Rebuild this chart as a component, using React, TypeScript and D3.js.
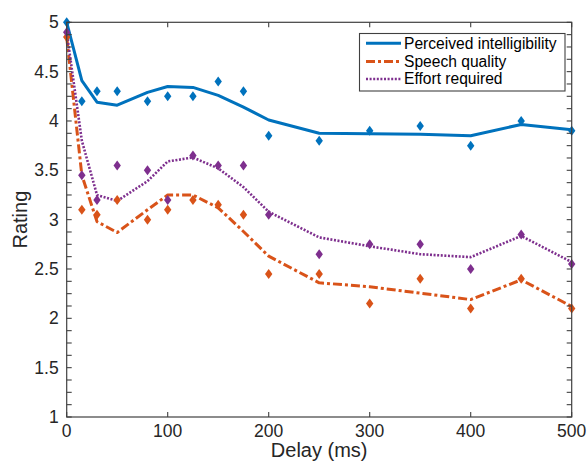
import React from "react";
import * as d3 from "d3";

// Delay conditions (ms)
const delays = [0, 15, 30, 50, 80, 100, 125, 150, 175, 200, 250, 300, 350, 400, 450, 500];

// Mean ratings (markers)
const intelligibilityPts = [5.0, 4.2, 4.3, 4.3, 4.2, 4.25, 4.25, 4.4, 4.3, 3.85, 3.8, 3.9, 3.95, 3.75, 4.0, 3.9];
const qualityPts = [4.85, 3.1, 3.05, 3.2, 3.0, 3.1, 3.2, 3.15, 3.05, 2.45, 2.45, 2.15, 2.4, 2.1, 2.4, 2.1];
const effortPts = [4.9, 3.45, 3.2, 3.55, 3.5, 3.2, 3.65, 3.55, 3.55, 3.05, 2.65, 2.75, 2.75, 2.5, 2.85, 2.55];

// Smoothed trend lines
const intelligibilityFit = [5.0, 4.41, 4.19, 4.16, 4.29, 4.35, 4.34, 4.26, 4.14, 4.01, 3.875, 3.87, 3.865, 3.85, 3.965, 3.91];
const qualityFit = [4.85, 3.45, 2.98, 2.87, 3.1, 3.25, 3.25, 3.12, 2.88, 2.63, 2.36, 2.32, 2.255, 2.19, 2.39, 2.12];
const effortFit = [4.9, 3.8, 3.25, 3.19, 3.39, 3.59, 3.63, 3.52, 3.33, 3.08, 2.82, 2.73, 2.65, 2.62, 2.835, 2.57];

const seriesNames = ["Perceived intelligibility", "Speech quality", "Effort required"];

const xTicks = [0, 100, 200, 300, 400, 500];
const yTicks = [1, 1.5, 2, 2.5, 3, 3.5, 4, 4.5, 5];

const W = 587;
const H = 461;
const left = 66.7;
const right = 571.7;
const top = 22.3;
const bottom = 417;

const FONT = "'Liberation Sans', Arial, Helvetica, sans-serif";
const AXIS = "#404040";
const TEXT = "#262626";

const styles = [
  { color: "#0072BD", dash: "none", width: 3 },
  { color: "#D95319", dash: "9,3,3,3", width: 3 },
  { color: "#7E2F8E", dash: "2,1.6", width: 2.6 },
];

export default function App() {
  const x = d3.scaleLinear().domain([0, 500]).range([left, right]);
  const y = d3.scaleLinear().domain([1, 5]).range([bottom, top]);

  const line = d3
    .line<[number, number]>()
    .x((d) => x(d[0]))
    .y((d) => y(d[1]));

  const fits = [intelligibilityFit, qualityFit, effortFit];
  const pts = [intelligibilityPts, qualityPts, effortPts];

  const minorY = d3.range(1, 5.0001, 0.125);

  const diamond = (cx: number, cy: number) => {
    const hw = 3.7;
    const hh = 5;
    return `M${cx},${cy - hh}L${cx + hw},${cy}L${cx},${cy + hh}L${cx - hw},${cy}Z`;
  };

  const tickLen = 5;

  const legX = 359.5;
  const legY = 33.5;
  const legW = 205.5;
  const legH = 57.5;
  const legRows = [43.3, 61.5, 79];

  return (
    <div style={{ position: "fixed", left: 0, top: 0 }}>
      <svg width={W} height={H} style={{ display: "block", background: "#fff" }}>
        <rect x={0} y={0} width={W} height={H} fill="#fff" />

        {/* trend lines */}
        {fits.map((f, i) => (
          <path
            key={"l" + i}
            d={line(delays.map((d, j) => [d, f[j]]) as [number, number][]) || ""}
            fill="none"
            stroke={styles[i].color}
            strokeWidth={styles[i].width}
            strokeDasharray={styles[i].dash}
            strokeLinejoin="round"
          />
        ))}

        {/* rating markers */}
        {pts.map((p, i) =>
          delays.map((d, j) => (
            <path key={`m${i}-${j}`} d={diamond(x(d), y(p[j]))} fill={styles[i].color} />
          ))
        )}

        {/* axes box */}
        <rect
          x={left}
          y={top}
          width={right - left}
          height={bottom - top}
          fill="none"
          stroke={AXIS}
          strokeWidth={1.2}
        />

        {/* x ticks */}
        {xTicks.map((t) => (
          <g key={"xt" + t}>
            <line x1={x(t)} x2={x(t)} y1={bottom} y2={bottom - tickLen} stroke={AXIS} strokeWidth={1.1} />
            <line x1={x(t)} x2={x(t)} y1={top} y2={top + tickLen} stroke={AXIS} strokeWidth={1.1} />
            <text
              x={x(t)}
              y={437}
              textAnchor="middle"
              fontFamily={FONT}
              fontSize={17.5}
              fill={TEXT}
            >
              {t}
            </text>
          </g>
        ))}

        {/* y ticks (major + minor) */}
        {minorY.map((t) => (
          <g key={"ym" + t}>
            <line x1={left} x2={left + tickLen} y1={y(t)} y2={y(t)} stroke={AXIS} strokeWidth={1.1} />
            <line x1={right} x2={right - tickLen} y1={y(t)} y2={y(t)} stroke={AXIS} strokeWidth={1.1} />
          </g>
        ))}
        {yTicks.map((t) => (
          <text
            key={"yl" + t}
            x={left - 8}
            y={y(t)}
            dy="0.35em"
            textAnchor="end"
            fontFamily={FONT}
            fontSize={17.5}
            fill={TEXT}
          >
            {String(t)}
          </text>
        ))}

        {/* axis titles */}
        <text
          x={(left + right) / 2}
          y={457}
          textAnchor="middle"
          fontFamily={FONT}
          fontSize={20}
          fill={TEXT}
        >
          Delay (ms)
        </text>
        <text
          transform={`translate(27,${(top + bottom) / 2}) rotate(-90)`}
          textAnchor="middle"
          fontFamily={FONT}
          fontSize={20}
          fill={TEXT}
        >
          Rating
        </text>

        {/* legend */}
        <rect x={legX} y={legY} width={legW} height={legH} fill="#fff" stroke={AXIS} strokeWidth={1.1} />
        {seriesNames.map((name, i) => (
          <g key={"lg" + i}>
            <line
              x1={366}
              x2={401}
              y1={legRows[i]}
              y2={legRows[i]}
              stroke={styles[i].color}
              strokeWidth={styles[i].width}
              strokeDasharray={styles[i].dash}
            />
            <text
              x={404}
              y={legRows[i]}
              dy="0.35em"
              fontFamily={FONT}
              fontSize={15.6}
              fill="#000"
            >
              {name}
            </text>
          </g>
        ))}
      </svg>
    </div>
  );
}
